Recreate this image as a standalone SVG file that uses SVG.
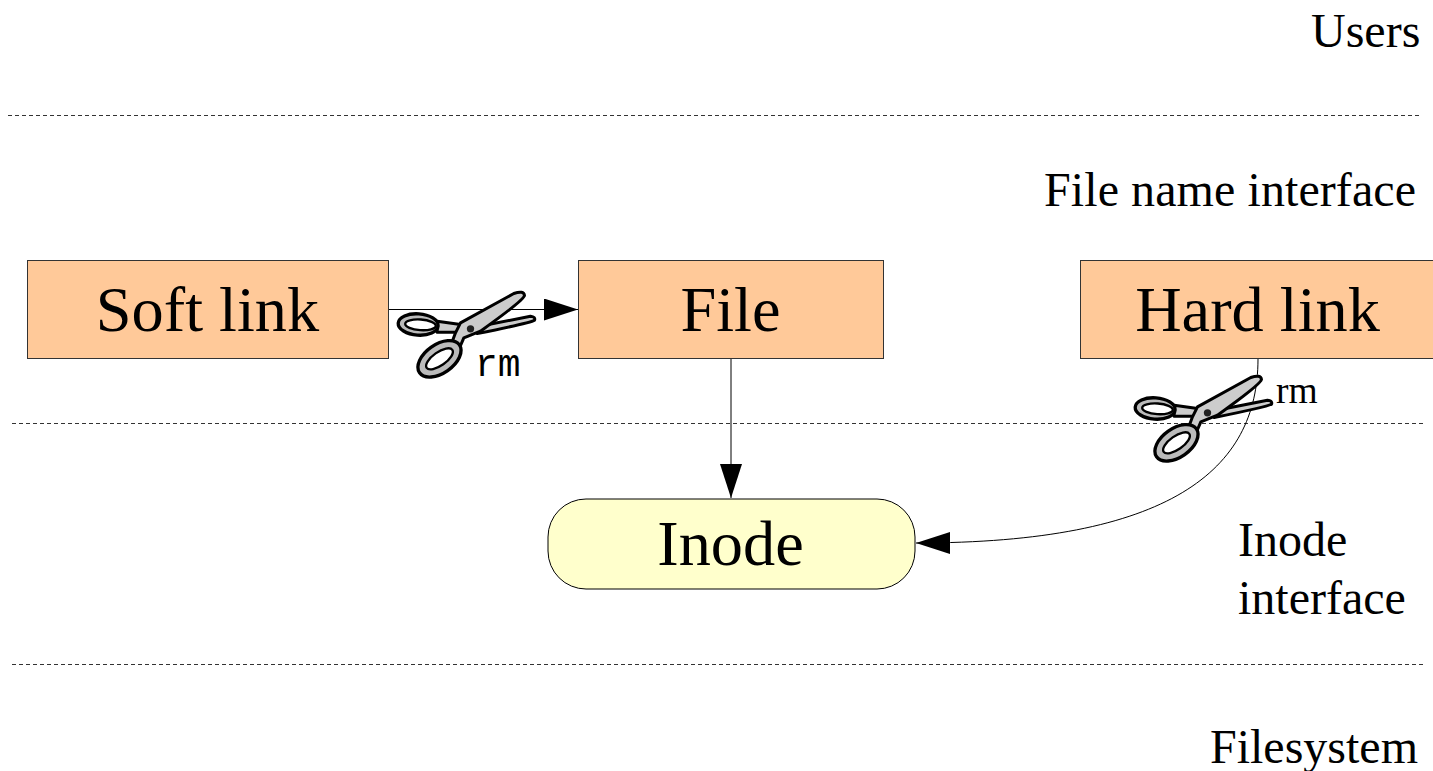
<svg xmlns="http://www.w3.org/2000/svg" xmlns:xlink="http://www.w3.org/1999/xlink" width="1433" height="771" viewBox="0 0 1433 771">
<style>
text{font-family:"Liberation Serif","Times New Roman",serif;fill:#000}
.lbl{font-size:48px}
.big{font-size:64.300px;text-anchor:middle}
.box{fill:#ffc999;stroke:#333;stroke-width:1}
.sep{stroke:#333;stroke-width:1;stroke-dasharray:4 3;fill:none}
.con{stroke:#000;stroke-width:1;fill:none}
.bl{fill:#ccc;stroke:#000;stroke-width:9;stroke-linejoin:round}
.hd{fill:#fff;stroke:#000;stroke-width:7}
.hg{fill:#bbb;stroke:#000;stroke-width:10}
</style>
<defs>
<marker id="arr" markerUnits="userSpaceOnUse" markerWidth="36" markerHeight="36" refX="34" refY="11" orient="auto"><path d="M0 0L34 11L0 22Z" fill="#000"/></marker>
<g id="sc" transform="scale(.3333)">
<path class="bl" d="M290 172L450 140Q466 142 462 152Q450 160 290 192Z"/>
<path class="bl" d="M170 155L240 165L250 185L225 188L170 188Z"/>
<path class="bl" d="M225 190L240 160L400 72Q430 62 432 78Q430 92 300 185L250 205L235 240L212 225Z"/>
<ellipse class="hg" cx="113" cy="165" rx="60" ry="32" transform="rotate(4 113 165)"/>
<ellipse class="hd" cx="120" cy="166" rx="46" ry="16" transform="rotate(4 120 166)"/>
<ellipse class="hg" cx="177" cy="268" rx="73" ry="43" transform="rotate(-35 177 268)"/>
<ellipse class="hd" cx="177" cy="268" rx="47" ry="20" transform="rotate(-35 177 268)"/>
<circle cx="270" cy="178" r="11" fill="#222"/>
</g>
</defs>
<g id="separators">
<line class="sep" x1="8" y1="115.500" x2="1420" y2="115.500"/>
<line class="sep" x1="12" y1="423.500" x2="1424" y2="423.500"/>
<line class="sep" x1="12" y1="664.500" x2="1424" y2="664.500"/>
</g>
<g id="connectors">
<line class="con" x1="389" y1="309.500" x2="578" y2="309.500" marker-end="url(#arr)"/>
<line class="con" x1="731" y1="359" x2="731" y2="498" marker-end="url(#arr)"/>
<path class="con" d="M1258 359C1258 470 1170 543 916 543" marker-end="url(#arr)"/>
</g>
<g id="soft-link"><rect class="box" x="27.500" y="260.500" width="361" height="98"/><text class="big" x="207.500" y="331">Soft link</text></g>
<g id="file"><rect class="box" x="578.500" y="260.500" width="305" height="98"/><text class="big" x="730.500" y="331">File</text></g>
<g id="hard-link"><rect class="box" x="1080.500" y="260.500" width="360" height="98"/><text class="big" x="1257.500" y="331">Hard link</text></g>
<g id="inode"><rect x="548" y="499" width="367" height="90" rx="38" ry="38" fill="#ffffcc" stroke="#000"/><text class="big" x="730.500" y="565">Inode</text></g>
<g id="scissors-soft"><use xlink:href="#sc" href="#sc" x="0" y="0" transform="translate(380.500 269.500)"/><text x="475" y="376" style="font-family:'Liberation Mono',monospace;font-size:38px">rm</text></g>
<g id="scissors-hard"><use xlink:href="#sc" href="#sc" x="0" y="0" transform="translate(1117.500 353.500)"/><text x="1276" y="403" style="font-size:37.500px">rm</text></g>
<g id="labels">
<text class="lbl" x="1311" y="47">Users</text>
<text class="lbl" x="1044" y="206" textLength="372">File name interface</text>
<text class="lbl" x="1238" y="556">Inode</text>
<text class="lbl" x="1238" y="614">interface</text>
<text class="lbl" x="1210" y="763">Filesystem</text>
</g>
</svg>
